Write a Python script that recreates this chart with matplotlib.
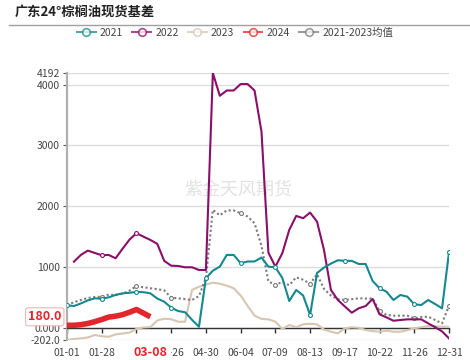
import matplotlib
matplotlib.use("Agg")
import matplotlib.pyplot as plt
from matplotlib.lines import Line2D
import numpy as np

plt.rcParams['font.family'] = ['Noto Sans CJK SC', 'DejaVu Sans']

nan = np.nan

# x轴：每周一个点，共56个
x_labels = ['01-01', '01-28', '', '03-26', '04-30', '06-04', '07-09',
            '08-13', '09-17', '10-22', '11-26', '12-31']

y2021 = [369, 357, 400, 450, 484, 478, 500, 540, 566, 575,
         590, 585, 566, 480, 428, 330, 275, 255, 130, 16,
         814, 939, 1005, 1198, 1198, 1061, 1090, 1090, 1155, 1005,
         995, 820, 440, 621, 530, 209, 900, 990, 1055, 1110,
         1100, 1100, 1049, 1049, 769, 650, 593, 456, 539, 511,
         385, 374, 456, 390, 319, 1242]

y2022 = [nan, 1087, 1198, 1269, 1230, 1193, 1198, 1143, 1300, 1450,
         1555, 1499, 1445, 1380, 1100, 1021, 1016, 995, 995, 950,
         950, 4192, 3817, 3904, 3904, 4010, 4010, 3904, 3229, 1236,
         1005, 1226, 1610, 1840, 1802, 1895, 1746, 1280, 621, 456,
         350, 247, 320, 357, 473, 221, 170, 115, 127, 138,
         138, 138, 72, 10, -60, -175]

y2023 = [-202, -185, -175, -160, -120, -140, -150, -109, -95, -80,
         -20, 5, 10, 120, 148, 140, 99, 99, 621, 675,
         710, 741, 725, 692, 650, 530, 360, 200, 145, 138,
         100, -21, 44, 10, 56, 65, 55, -30, -66, -92,
         -10, 7, 0, -38, -55, -66, -49, -66, -66, -40,
         -10, 10, 28, 25, 16, 16]

y2024 = [40, 40, 50, 70, 100, 135, 175, 190, 215, 255, 300, 240, 180]

y_avg = [369, 420, 456, 490, 505, 511, 545, 540, 560, 610,
         687, 666, 650, 635, 615, 494, 484, 470, 456, 520,
         819, 1939, 1850, 1930, 1930, 1885, 1830, 1720, 1350, 760,
         710, 750, 700, 830, 790, 725, 880, 640, 530, 470,
         456, 470, 484, 480, 480, 280, 210, 198, 198, 198,
         155, 175, 181, 127, 72, 362]

y_ticks = [-202, 0, 1000, 2000, 3000, 4000, 4192]
y_tick_labels = ['-202.0', '0.000', '1000', '2000', '3000', '4000', '4192']

last_label = '03-08'
last_value = 180.0

c2021 = '#14898f'
c2022 = '#8a0f6a'
c2023 = '#d6c6b2'
c2024 = '#e3262b'
cavg = '#7a7a7a'

fig = plt.figure(figsize=(4.7, 3.6), dpi=100)
ax = fig.add_axes([67/470, 1 - 340/360, (449 - 67)/470, (340 - 73)/360])

x = np.arange(len(y2021))
mk = dict(marker='o', markersize=2.8, markerfacecolor='white', markeredgewidth=0.8)

ax.plot(x, y2023, color=c2023, lw=1.5, zorder=3)
ax.plot(x, y_avg, color=cavg, lw=1.5, ls=(0, (1, 1.2)), markeredgecolor=cavg,
        markevery=[5, 10, 15, 25, 30, 35, 40, 45, 50, 55], zorder=4, **mk)
ax.plot(x, y2022, color=c2022, lw=1.5, markevery=[5, 10], zorder=5, **mk)
ax.plot(x, y2021, color=c2021, lw=1.5, markevery=5, zorder=6, **mk)
ax.plot(np.arange(len(y2024)), y2024, color=c2024, lw=4, solid_capstyle='butt',
        zorder=7)

ax.set_xlim(0, len(y2021) - 1)
ax.set_ylim(y_ticks[0], y_ticks[-1])
ax.set_xticks(np.arange(0, len(y2021), 5))
ax.set_xticklabels(x_labels)
ax.set_yticks(y_ticks)
ax.set_yticklabels(y_tick_labels)

for s in ['top', 'right']:
    ax.spines[s].set_visible(False)
ax.spines['left'].set_color('#b0b0b0')
ax.spines['left'].set_linewidth(1.6)
ax.spines['bottom'].set_position(('data', 0))
ax.spines['bottom'].set_color('#333333')
ax.spines['bottom'].set_linewidth(1.0)

ax.tick_params(axis='x', length=3.5, width=1, color='#333333', pad=11,
               labelsize=7.5, labelcolor='#444444')
ax.tick_params(axis='y', length=3, width=0.8, color='#555555', pad=2,
               labelsize=7.5, labelcolor='#444444')
ax.yaxis.grid(True, color='#dddddd', lw=1)
ax.set_axisbelow(True)

# 水印
ax.text(0.448, 0.56, '紫金天风期货', transform=ax.transAxes, fontsize=13,
        color='#e2e2e2', ha='center', va='center', zorder=1)

# 最新值标注
ax.annotate(f'{last_value:.1f}', xy=(0, last_value),
            xycoords=('axes fraction', 'data'), xytext=(-4, 0),
            textcoords='offset points', ha='right', va='center',
            fontsize=9, fontweight='bold', color=c2024, zorder=10,
            annotation_clip=False,
            bbox=dict(boxstyle='round,pad=0.2', fc='white', ec='#f2b6b6', lw=0.8))
ax.annotate(last_label, xy=(len(y2024) - 1, 0),
            xycoords=('data', 'axes fraction'), xytext=(0, -9),
            textcoords='offset points', ha='center', va='center',
            fontsize=9, fontweight='bold', color=c2024, zorder=10,
            annotation_clip=False,
            bbox=dict(boxstyle='square,pad=0.3', fc='white', ec='none'))

# 标题和分隔线
fig.text(15/470, 1 - 12/360, '广东24°棕榈油现货基差', fontsize=9.5,
         fontweight='bold', color='#222222', ha='left', va='center')
fig.add_artist(Line2D([9/470, 1], [1 - 24.5/360, 1 - 24.5/360],
                      color='#a0a0a0', lw=1))

handles = []
for lab, col in [('2021', c2021), ('2022', c2022), ('2023', c2023),
                 ('2024', c2024), ('2021-2023均值', cavg)]:
    handles.append(Line2D([], [], color=col, lw=1.5, marker='o', markersize=5.5,
                          markerfacecolor='white', markeredgewidth=1.2, alpha=0.75))
fig.legend(handles, ['2021', '2022', '2023', '2024', '2021-2023均值'],
           loc='center', bbox_to_anchor=(0.5, 1 - 33/360), ncol=5, frameon=False,
           fontsize=7.5, handlelength=1.8, handletextpad=0.4, columnspacing=0.9,
           labelcolor='#444444')

fig.savefig('out.png', dpi=100)
